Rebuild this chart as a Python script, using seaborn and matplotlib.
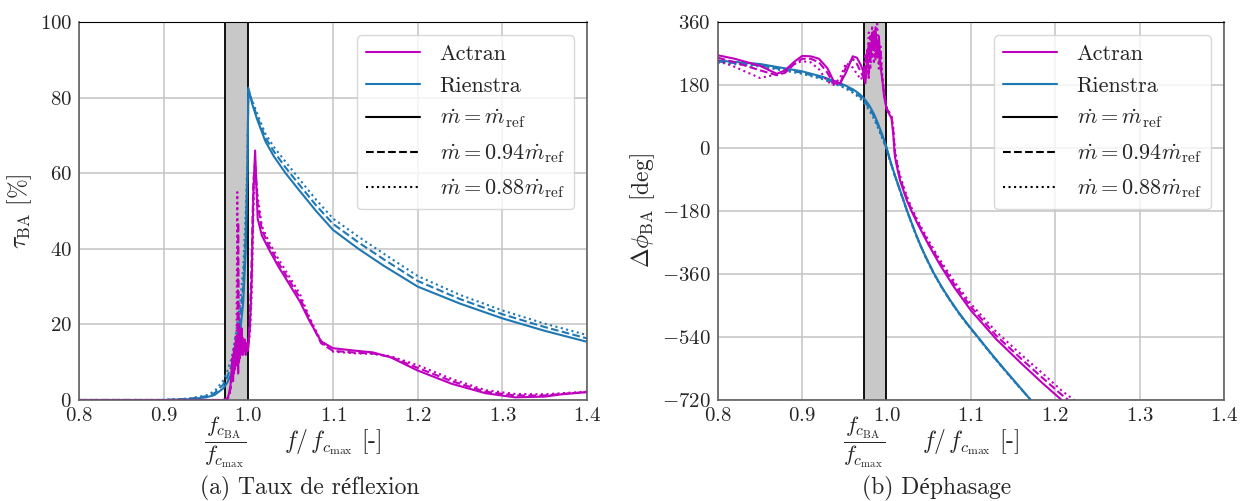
import numpy as np
import pandas as pd
import matplotlib
matplotlib.use("Agg")
import matplotlib.pyplot as plt
import seaborn as sns
from matplotlib.lines import Line2D
from matplotlib.ticker import FuncFormatter

# ---------------- data ----------------
fc_ratio = 0.973  # f_cBA / f_cmax

flows = ["ref", "094", "088"]
models = ["Actran", "Rienstra"]

# Panel (a): reflection rate [%]
xr_l = [0.80, 0.90, 0.93, 0.95, 0.96, 0.97, 0.975, 0.98, 0.985, 0.99, 0.994, 0.997, 0.999,
        1.0, 1.005, 1.01, 1.02, 1.03, 1.044, 1.06, 1.08, 1.10, 1.13, 1.16, 1.20, 1.25,
        1.30, 1.35, 1.40]
tr_ref = [0, 0, 0.2, 0.7, 1.3, 3.0, 4.5, 7, 11, 17, 26, 40, 60,
          82.6, 78, 74.5, 68.5, 64.5, 60, 55.5, 50, 45, 40, 35.5, 30, 25.5, 21.6, 18.3, 15.4]
tr_094 = [0, 0, 0.3, 1.0, 1.8, 4.0, 6, 9, 14, 21, 30, 45, 62,
          82, 78.5, 75.2, 69.5, 65.8, 61.5, 57, 51.5, 46.6, 41.7, 37.2, 31.5, 26.7, 22.7, 19.3, 16.3]
tr_088 = [0, 0, 0.4, 1.2, 2.3, 5.0, 7.5, 11, 17, 25, 35, 50, 65,
          81.5, 79, 76, 70.5, 67, 63, 58.5, 53, 48, 43.2, 38.7, 32.8, 27.8, 23.7, 20.2, 17.2]

xa_l = [0.80, 0.95, 0.970, 0.975, 0.977, 0.979,
        0.980, 0.981, 0.982, 0.983, 0.984, 0.985, 0.986, 0.987, 0.988, 0.989,
        0.990, 0.991, 0.992, 0.993, 0.994, 0.995, 0.996, 0.997, 0.998, 0.999,
        1.000, 1.002, 1.004, 1.006, 1.008, 1.011, 1.016, 1.024, 1.035, 1.046,
        1.061, 1.072, 1.086, 1.100, 1.128, 1.147, 1.168, 1.20, 1.24, 1.28,
        1.315, 1.35, 1.37, 1.40]
ta_ref = [0, 0, 0, 0.3, 1.5, 4,
          7, 11, 5, 13, 8, 15, 10, 17, 7, 20,
          11, 14, 19, 12, 16, 13, 15, 12, 15, 13,
          14, 20, 32, 55, 66, 48, 43.5, 40, 35.5, 31.5,
          26, 21, 15.5, 13.7, 13, 12.6, 11.3, 7.8, 4.3, 1.8,
          0.7, 0.9, 1.5, 2.1]
ta_094 = [0, 0, 0, 0.2, 1, 3,
          6, 9, 12, 7, 14, 9, 16, 11, 47, 10,
          18, 13, 16, 12, 15, 13, 16, 12, 14, 13,
          15, 22, 38, 58, 63, 52, 45, 41, 36.5, 32.5,
          27, 21.5, 15, 13, 12.5, 12.3, 11.4, 8.5, 5, 2.2,
          1.2, 1.2, 1.6, 2.1]
ta_088 = [0, 0, 0, 0.1, 0.8, 2.5,
          5, 8, 10, 14, 9, 17, 12, 55, 15, 11,
          19, 14, 13, 17, 12, 16, 14, 15, 13, 14,
          14, 18, 28, 50, 61, 54, 46, 42, 37.5, 33.5,
          28, 22, 15.5, 12.8, 12.3, 12.2, 11.6, 9.2, 5.6, 2.6,
          1.6, 1.5, 1.8, 2.2]

# Panel (b): phase shift [deg]
xr_r = [0.80, 0.85, 0.90, 0.925, 0.95, 0.96, 0.965, 0.97, 0.975, 0.98, 0.985, 0.99, 0.995,
        1.0, 1.005, 1.01, 1.015, 1.02, 1.0245, 1.03, 1.035, 1.04, 1.045, 1.05, 1.056,
        1.065, 1.075, 1.085, 1.095, 1.11, 1.125, 1.14, 1.155, 1.171]
pr_ref = [250, 240, 219, 203, 180, 168, 160, 150, 137, 120, 98, 70, 38,
          3, -40, -78, -113, -148, -180, -215, -247, -276, -303, -328, -357,
          -395, -433, -468, -500, -545, -590, -633, -675, -720]
pr_094 = [247, 236, 215, 199, 176, 163, 154, 144, 130, 113, 91, 63, 32,
          -1, -42, -79, -114, -149, -181, -216, -248, -277, -304, -329, -358,
          -396, -434, -469, -501, -546, -591, -634, -676, -720]
pr_088 = [244, 233, 212, 196, 172, 158, 149, 138, 124, 106, 84, 57, 27,
          -4, -44, -81, -115, -150, -182, -217, -249, -278, -305, -330, -359,
          -397, -435, -470, -502, -547, -592, -635, -677, -720]

xa_r = [0.80, 0.82, 0.85, 0.87, 0.88, 0.89, 0.90, 0.91, 0.92, 0.93, 0.937, 0.945, 0.952,
        0.96, 0.965, 0.970, 0.973,
        0.975, 0.977, 0.979, 0.981, 0.983, 0.985, 0.987, 0.989, 0.991, 0.993, 0.995,
        0.997, 0.999,
        1.0, 1.003, 1.006, 1.008, 1.010, 1.013, 1.016, 1.024, 1.030, 1.037, 1.05,
        1.063, 1.08, 1.10, 1.13, 1.16, 1.185, 1.2076, 1.2156, 1.2226]
pa_ref = [265, 255, 235, 212, 222, 245, 263, 262, 255, 228, 193, 184, 215,
          262, 258, 235, 215,
          185, 240, 300, 250, 330, 280, 345, 260, 320, 230, 200,
          150, 125,
          112, 98, 85, 40, -25, -60, -92, -149, -182, -217, -277,
          -332, -397, -464, -546, -616, -672, -720, np.nan, np.nan]
pa_094 = [258, 245, 222, 208, 215, 238, 255, 255, 245, 215, 185, 183, 232,
          255, 240, 215, 200,
          230, 280, 200, 320, 260, 340, 250, 300, 240, 270, 190,
          160, 130,
          115, 100, 88, 50, -15, -52, -85, -143, -177, -212, -272,
          -325, -388, -454, -536, -603, -657, -705, -720, np.nan]
pa_088 = [250, 232, 200, 210, 222, 240, 248, 245, 225, 190, 180, 200, 243,
          230, 212, 195, 220,
          270, 210, 330, 225, 350, 240, 310, 355, 220, 290, 210,
          170, 135,
          118, 104, 90, 60, -5, -45, -78, -137, -172, -207, -265,
          -318, -380, -445, -525, -591, -644, -693, -708, -720]

xticks = [0.8, 0.9, 1.0, 1.1, 1.2, 1.3, 1.4]
yticks_a = [0, 20, 40, 60, 80, 100]
yticks_b = [-720, -540, -360, -180, 0, 180, 360]

# --------------- tidy table ---------------
rows = []
def add(panel, model, x, series):
    for flow, ys in zip(flows, series):
        for xi, yi in zip(x, ys):
            rows.append((panel, model, flow, xi, yi))

add("a", "Rienstra", xr_l, [tr_ref, tr_094, tr_088])
add("a", "Actran", xa_l, [ta_ref, ta_094, ta_088])
add("b", "Rienstra", xr_r, [pr_ref, pr_094, pr_088])
add("b", "Actran", xa_r, [pa_ref, pa_094, pa_088])
df = pd.DataFrame(rows, columns=["panel", "model", "flow", "x", "y"]).dropna()

# --------------- style ---------------
sns.set_style("white")
plt.rcParams.update({
    "font.family": ["cmr10", "Liberation Serif", "DejaVu Serif"],
    "mathtext.fontset": "cm",
    "axes.formatter.use_mathtext": True,
    "axes.unicode_minus": True,
})

palette = {"Actran": "#bf00bf", "Rienstra": "#1f77b4"}
dashes = {"ref": "", "094": (3.7, 1.6), "088": (1, 1.65)}

fig = plt.figure(figsize=(12.4, 5.01), dpi=100)
ax_a = fig.add_axes([0.0637, 0.2016, 0.4097, 0.7545])
ax_b = fig.add_axes([0.5788, 0.2016, 0.4083, 0.7545])

xfmt = FuncFormatter(lambda v, p: r"$%.1f$" % v)
yfmt = FuncFormatter(lambda v, p: r"$%d$" % round(v))
frac = r"$\dfrac{f_{c_{\mathrm{BA}}}}{f_{c_{\max}}}$"

for ax, panel, yt, ylab in [
    (ax_a, "a", yticks_a, r"$\tau_{\mathrm{BA}}$ [%]"),
    (ax_b, "b", yticks_b, r"$\Delta\phi_{\mathrm{BA}}$ [deg]"),
]:
    ax.axvspan(fc_ratio, 1.0, color="#c8c8c8", zorder=1.2, lw=0)
    ax.axvline(fc_ratio, color="black", lw=1.3, zorder=1.4)
    ax.axvline(1.0, color="black", lw=1.3, zorder=1.4)
    sns.lineplot(data=df[df.panel == panel], x="x", y="y", hue="model", style="flow",
                 hue_order=["Rienstra", "Actran"], style_order=flows,
                 palette=palette, dashes=dashes, estimator=None, sort=False,
                 legend=False, linewidth=1.5, ax=ax, zorder=2)
    ax.set_xlim(xticks[0], xticks[-1])
    ax.set_ylim(yt[0], yt[-1])
    ax.set_xticks(xticks)
    ax.set_yticks(yt)
    ax.xaxis.set_major_formatter(xfmt)
    ax.yaxis.set_major_formatter(yfmt)
    ax.set_xticks([fc_ratio], minor=True)
    ax.set_xticklabels([frac], minor=True, fontsize=16)
    ax.tick_params(axis="x", which="minor", pad=7, length=3.5, width=0.8)
    ax.tick_params(axis="both", which="major", labelsize=15, length=3.5, pad=1.5)
    ax.grid(True, which="major", color="#c4c4c4", lw=1.1)
    ax.set_axisbelow(True)
    ax.set_xlabel(r"$f/\,f_{c_{\max}}$ [-]", fontsize=17)
    ax.xaxis.set_label_coords(0.5, -0.072)
    ax.set_ylabel(ylab, fontsize=17, labelpad=4)
    for s in ["left", "bottom", "right"]:
        ax.spines[s].set_color("#606060")
        ax.spines[s].set_linewidth(1.2)
    ax.spines["top"].set_color("black")

    handles = [
        Line2D([], [], color=palette["Actran"], lw=1.5),
        Line2D([], [], color=palette["Rienstra"], lw=1.5),
        Line2D([], [], color="black", lw=1.5, ls="-"),
        Line2D([], [], color="black", lw=1.5, ls="--"),
        Line2D([], [], color="black", lw=1.5, ls=":"),
    ]
    labels = ["Actran", "Rienstra",
              r"$\dot{m} = \dot{m}_{\mathrm{ref}}$",
              r"$\dot{m} = 0.94\dot{m}_{\mathrm{ref}}$",
              r"$\dot{m} = 0.88\dot{m}_{\mathrm{ref}}$"]
    ax.legend(handles, labels, loc="upper right", fontsize=16, frameon=True,
              handlelength=2.4, handletextpad=0.9, borderaxespad=0.6,
              labelspacing=0.55, fancybox=True, framealpha=0.8, edgecolor="#d0d0d0")

fig.text(0.25, 0.026, "(a) Taux de réflexion", ha="center", va="center", fontsize=17)
fig.text(0.755, 0.026, "(b) Déphasage", ha="center", va="center", fontsize=17)

fig.savefig("out.png", dpi=100)
